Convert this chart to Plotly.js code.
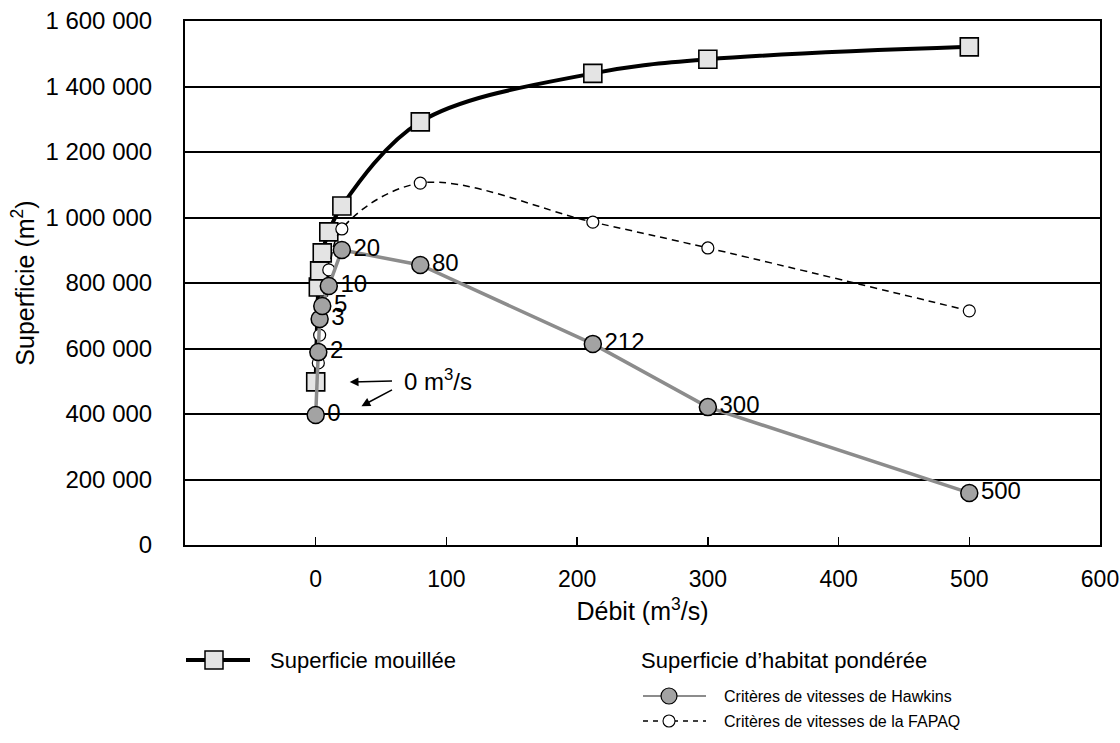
<!DOCTYPE html>
<html>
<head>
<meta charset="utf-8">
<script src="https://cdn.plot.ly/plotly-3.0.1.min.js"></script>
<style>
  html, body { margin: 0; padding: 0; background: #fff; }
  #chart { width: 1120px; height: 743px; }
</style>
</head>
<body>
<div id="chart"></div>
<script>
// ---- Data ----
const flows = [0, 2, 3, 5, 10, 20, 80, 212, 300, 500];            // Débit (m³/s)
const superficieMouillee = [498000, 788000, 837000, 892000, 956000, 1035000, 1292000, 1440000, 1483000, 1521000];
const hawkins = [397000, 589000, 690000, 730000, 791000, 901000, 855000, 614000, 421000, 159000];
const fapaq = [400000, 556000, 641000, 730000, 840000, 965000, 1105000, 986000, 907000, 715000];
const xTickVals = [0, 100, 200, 300, 400, 500, 600];
const yTickVals = [0, 200000, 400000, 600000, 800000, 1000000, 1200000, 1400000, 1600000];
const flowLabels = flows.map(String);

const FONT = "Liberation Sans, Arial, Helvetica, sans-serif";

const traces = [
  {
    x: flows, y: superficieMouillee, name: "Superficie mouillée",
    type: "scatter", mode: "lines+markers",
    line: { color: "#000", width: 4, shape: "spline", smoothing: 1 },
    marker: { symbol: "square", size: 18, color: "#e4e4e4", line: { color: "#000", width: 1.6 } },
    showlegend: false
  },
  {
    x: flows, y: fapaq, name: "Critères de vitesses de la FAPAQ",
    type: "scatter", mode: "lines+markers",
    line: { color: "#000", width: 1.5, dash: "7px,5px", shape: "spline", smoothing: 1 },
    marker: { symbol: "circle", size: 12, color: "#fff", line: { color: "#000", width: 1.2 } },
    showlegend: false
  },
  {
    x: flows, y: hawkins, name: "Critères de vitesses de Hawkins",
    type: "scatter", mode: "lines+markers+text",
    text: flowLabels, textposition: "middle right",
    textfont: { family: FONT, size: 24, color: "#000" },
    line: { color: "#8c8c8c", width: 3.5 },
    marker: { symbol: "circle", size: 17, color: "#a3a3a3", line: { color: "#000", width: 1.5 } },
    showlegend: false
  }
];

// plot area in pixels
const L = 185, R = 1100, T = 21, B = 545;
const px = v => (v - L) / (R - L);
const py = v => (B - v) / (B - T);

const shapes = [
  // legend: Superficie mouillée
  { type: "line", xref: "paper", yref: "paper", x0: px(186), x1: px(250), y0: py(660), y1: py(660), line: { color: "#000", width: 4 } },
  { type: "rect", xref: "paper", yref: "paper", x0: px(205), x1: px(223), y0: py(651), y1: py(669), fillcolor: "#e4e4e4", line: { color: "#000", width: 1.5 } },
  // legend: Hawkins
  { type: "line", xref: "paper", yref: "paper", x0: px(643), x1: px(706), y0: py(696), y1: py(696), line: { color: "#8c8c8c", width: 2 } },
  { type: "circle", xref: "paper", yref: "paper", x0: px(661), x1: px(677), y0: py(688), y1: py(704), fillcolor: "#a3a3a3", line: { color: "#000", width: 1.2 } },
  // legend: FAPAQ
  { type: "line", xref: "paper", yref: "paper", x0: px(643), x1: px(706), y0: py(721), y1: py(721), line: { color: "#000", width: 1.3, dash: "5px,5px" } },
  { type: "circle", xref: "paper", yref: "paper", x0: px(663), x1: px(675), y0: py(715), y1: py(727), fillcolor: "#fff", line: { color: "#000", width: 1.1 } }
];

const annotations = [
  { xref: "x", yref: "y", x: 66, y: 504000, text: "0 m<sup>3</sup>/s", showarrow: false, xanchor: "left", yanchor: "middle", font: { family: FONT, size: 24, color: "#000" } },
  { xref: "x", yref: "y", x: 26, y: 497700, axref: "x", ayref: "y", ax: 59.5, ay: 500800, text: "", showarrow: true, arrowhead: 2, arrowsize: 1.1, arrowwidth: 1.6, arrowcolor: "#000" },
  { xref: "x", yref: "y", x: 35, y: 424000, axref: "x", ayref: "y", ax: 59.5, ay: 476000, text: "", showarrow: true, arrowhead: 2, arrowsize: 1.1, arrowwidth: 1.6, arrowcolor: "#000" },
  // legend texts
  { xref: "paper", yref: "paper", x: px(268), y: py(660), text: "Superficie mouillée", showarrow: false, xanchor: "left", yanchor: "middle", font: { family: FONT, size: 22, color: "#000" } },
  { xref: "paper", yref: "paper", x: px(639), y: py(660), text: "Superficie d’habitat pondérée", showarrow: false, xanchor: "left", yanchor: "middle", font: { family: FONT, size: 22, color: "#000" } },
  { xref: "paper", yref: "paper", x: px(722), y: py(696), text: "Critères de vitesses de Hawkins", showarrow: false, xanchor: "left", yanchor: "middle", font: { family: FONT, size: 16, color: "#000" } },
  { xref: "paper", yref: "paper", x: px(722), y: py(721), text: "Critères de vitesses de la FAPAQ", showarrow: false, xanchor: "left", yanchor: "middle", font: { family: FONT, size: 16, color: "#000" } }
];

const layout = {
  width: 1120, height: 743,
  margin: { l: L, r: 1120 - R, t: T, b: 743 - B, pad: 0 },
  paper_bgcolor: "#fff", plot_bgcolor: "#fff",
  separators: ", ",
  font: { family: FONT, color: "#000" },
  showlegend: false,
  xaxis: {
    range: [-100, 600], tickvals: xTickVals, ticktext: xTickVals.map(String),
    ticks: "inside", ticklen: 8, tickwidth: 1.5, tickcolor: "#000",
    ticklabeloverflow: "allow",
    showgrid: false, zeroline: false,
    showline: true, linecolor: "#000", linewidth: 2, mirror: true,
    tickfont: { family: FONT, size: 23, color: "#000" },
    ticklabelstandoff: 12,
    title: { text: "Débit (m<sup>3</sup>/s)", font: { family: FONT, size: 25, color: "#000" }, standoff: 12 },
    automargin: false
  },
  yaxis: {
    range: [0, 1600000], tickvals: yTickVals, tickformat: ",d",
    ticks: "", showgrid: true, gridcolor: "#000", gridwidth: 2,
    zeroline: false,
    showline: true, linecolor: "#000", linewidth: 2, mirror: true,
    tickfont: { family: FONT, size: 24, color: "#000" },
    ticklabelstandoff: 26,
    title: { text: "Superficie (m<sup>2</sup>)", font: { family: FONT, size: 25, color: "#000" }, standoff: 4 },
    automargin: false
  },
  shapes: shapes,
  annotations: annotations
};

Plotly.newPlot("chart", traces, layout, { staticPlot: true, displayModeBar: false });
</script>
</body>
</html>
